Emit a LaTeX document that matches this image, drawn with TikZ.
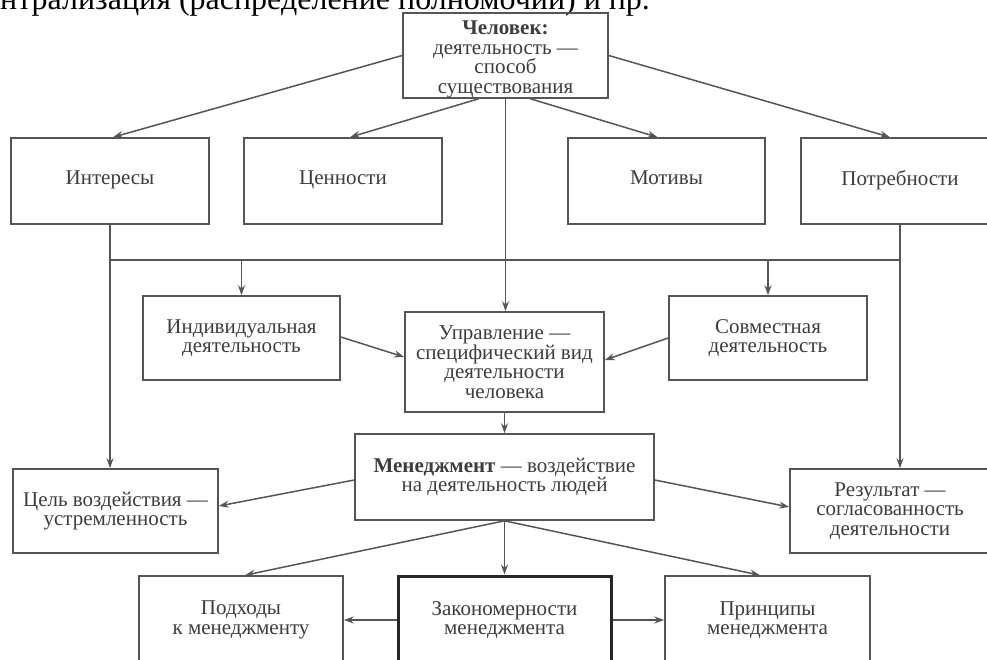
\documentclass[tikz,border=0pt]{standalone}
\usepackage{fontspec}
\setmainfont{Liberation Serif}
\usetikzlibrary{arrows.meta,calc}
\definecolor{ln}{RGB}{85,85,85}
\definecolor{tx}{RGB}{60,60,60}
\tikzset{
  box/.style={draw=ln, line width=1.6pt, inner sep=0pt, align=center, text=tx,
    font=\fontsize{21}{19.5}\selectfont},
  heavybox/.style={box, line width=3pt, draw=black!85},
  arr/.style={draw=ln, line width=1.5pt, -{Stealth[length=10pt,width=7pt]}},
  plain/.style={draw=ln, line width=1.5pt},
}
\begin{document}
\begin{tikzpicture}[x=1pt,y=-1pt]
\useasboundingbox (0,0) rectangle (987,659);
\clip (0,0) rectangle (987,659);
\node[anchor=base west, inner sep=0pt, font=\fontsize{32}{32}\selectfont] (toptext) at (0,9)
  {нтрализация (распределение полномочий) и пр.};

\node[box, minimum width=205pt, minimum height=85pt] (chel) at (505.5,55.5)
  {\rule{0pt}{22pt}\textbf{Человек:}\\деятельность~—\\способ\\существования};
\node[box, minimum width=198pt, minimum height=86pt] (inter) at (110,181) {\strut Интересы};
\node[box, minimum width=198pt, minimum height=86pt] (cenn) at (343,181) {\strut Ценности};
\node[box, minimum width=197pt, minimum height=86pt] (motiv) at (666.5,181) {\strut Мотивы};
\node[box, minimum width=198pt, minimum height=86pt] (potr) at (900,181) {\strut Потребности};

\node[box, minimum width=197pt, minimum height=84pt] (indiv) at (241.5,338)
  {Индивидуальная\\деятельность};
\node[box, minimum width=199pt, minimum height=100pt] (upr) at (504.5,362)
  {Управление~—\\специфический вид\\деятельности\\человека};
\node[box, minimum width=198pt, minimum height=84pt] (sovm) at (768,338)
  {Совместная\\деятельность};

\node[box, minimum width=299pt, minimum height=86pt] (men) at (504.5,477)
  {\textbf{Менеджмент}~— воздействие\\на деятельность людей};
\node[box, minimum width=205pt, minimum height=84pt] (cel) at (115.5,511)
  {Цель воздействия~—\\устремленность};
\node[box, minimum width=200pt, minimum height=84pt] (rez) at (890,511)
  {Результат~—\\согласованность\\деятельности};

\node[box, minimum width=204pt, minimum height=88pt] (podh) at (241,620)
  {Подходы\\к менеджменту};
\node[heavybox, minimum width=213pt, minimum height=88pt] (zak) at (504.5,620)
  {Закономерности\\менеджмента};
\node[box, minimum width=205pt, minimum height=88pt] (princ) at (767.5,620)
  {Принципы\\менеджмента};

% connectors from the top box
\draw[arr] (chel.west) -- ($(inter.north)+(3,0)$);
\draw[arr] ($(chel.south)+(-27,0)$) -- ($(cenn.north)+(7,0)$);
\draw[arr] ($(chel.south)+(25,0)$) -- ($(motiv.north)+(-9,0)$);
\draw[arr] (chel.east) -- ($(potr.north)+(-10,0)$);
\draw[arr] (chel.south) -- (chel.south |- upr.north);

% side verticals and the horizontal bar
\path (inter.south) ++(0,35) coordinate (hL);
\coordinate (hR) at (potr.south |- hL);
\draw[plain] (hL) -- (hR);
\draw[arr] (inter.south) -- (inter.south |- cel.north);
\draw[arr] (potr.south) -- (potr.south |- rez.north);
\draw[arr] (indiv.north |- hL) -- (indiv.north);
\draw[arr] (sovm.north |- hL) -- (sovm.north);

% into the management node
\draw[arr] ($(indiv.east)+(0,-1)$) -- ($(upr.west)+(0,-5)$);
\draw[arr] (sovm.west) -- ($(upr.east)+(0,-2)$);
\draw[arr] (upr.south) -- (upr.south |- men.north);

% from management
\draw[arr] ($(men.west)+(0,3)$) -- ($(cel.east)+(0,-5)$);
\draw[arr] ($(men.east)+(0,3)$) -- ($(rez.west)+(0,-4)$);
\draw[arr] (men.south) -- ($(podh.north)+(4,0)$);
\draw[arr] (men.south) -- (zak.north);
\draw[arr] (men.south) -- ($(princ.north)+(-7.5,0)$);

% bottom row
\draw[arr] (zak.west) -- (podh.east);
\draw[arr] (zak.east) -- (princ.west);
\end{tikzpicture}
\end{document}
